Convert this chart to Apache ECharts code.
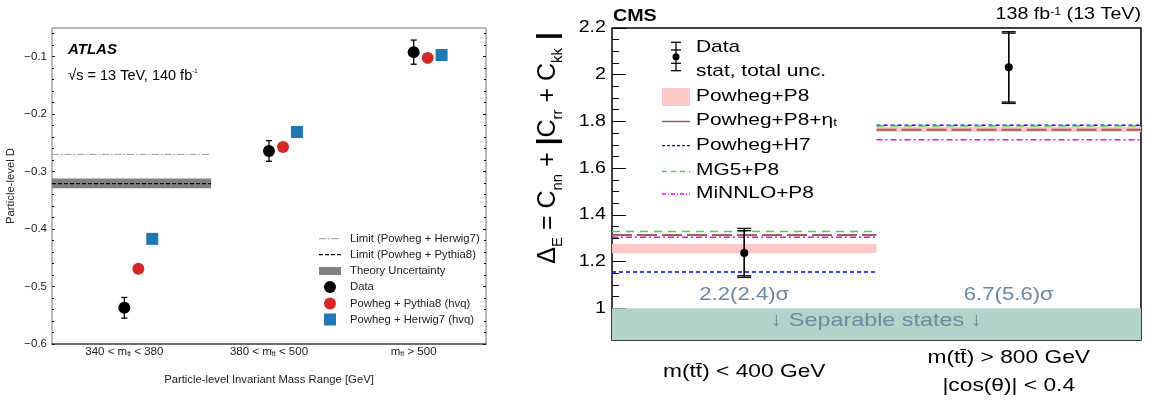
<!DOCTYPE html>
<html>
<head>
<meta charset="utf-8">
<script src="https://cdn.jsdelivr.net/npm/echarts@6/dist/echarts.min.js"></script>
<style>
  html, body { margin: 0; padding: 0; background: #fff; }
  #chart { width: 1153px; height: 403px; }
</style>
</head>
<body>
<div id="chart"></div>
<script>
// ---- left panel (ATLAS) ----
const atlasCats = ['340 < m{s|tt} < 380', '380 < m{s|tt} < 500', 'm{s|tt} > 500'];
const atlasData = [-0.537, -0.264, -0.092];
const atlasDataErr = [0.018, 0.018, 0.021];
const atlasPy8 = [-0.469, -0.257, -0.102];
const atlasHw7 = [-0.417, -0.231, -0.097];
const limitHw7 = -0.27;
const limitPy8 = -0.321;
const theoryBand = [-0.329, -0.312];
const limitSpan = [0, 1.1];
const atlasTicks = [-0.6, -0.5, -0.4, -0.3, -0.2, -0.1];

// ---- right panel (CMS) ----
const cmsBins = [0, 1, 2];
const cmsCats = ['m(tt̄) < 400 GeV', 'm(tt̄) > 800 GeV\n|cos(θ)| < 0.4'];
const cmsData = [1.237, 2.032];
const cmsStat = [[1.139, 1.332], [1.883, 2.178]];
const cmsTotal = [[1.132, 1.342], [1.877, 2.184]];
const powhegP8 = [[1.237, 1.275], [1.755, 1.777]];
const powhegP8Eta = [1.314, 1.764];
const powhegH7 = [1.155, 1.784];
const mg5P8 = [1.329, 1.780];
const minnloP8 = [1.304, 1.721];
const separableMax = 1;
const signif = ['2.2(2.4)σ', '6.7(5.6)σ'];
const cmsTicks = [1, 1.2, 1.4, 1.6, 1.8, 2, 2.2];

const FONT = 'Liberation Sans, Arial, DejaVu Sans, sans-serif';
const yMinL = -0.6, yMaxL = -0.05;
const yMinR = 0.864, yMaxR = 2.2;
const SX = 1.23; // the CMS panel text is drawn a bit wide

function steps(a, b, d) {
  const out = [];
  for (let v = a; v <= b + 1e-9; v += d) out.push(Math.round(v * 1000) / 1000);
  return out;
}

const chart = echarts.init(document.getElementById('chart'));

function rectItem(params, api) {
  const p0 = api.coord([api.value(0), api.value(3)]);
  const p1 = api.coord([api.value(1), api.value(2)]);
  return {
    type: 'rect',
    shape: { x: p0[0], y: p0[1], width: p1[0] - p0[0], height: p1[1] - p0[1] },
    style: { fill: api.visual('color') }
  };
}

function errItem(cap) {
  return function (params, api) {
    const x = api.value(0);
    const lo = api.coord([x, api.value(1)]);
    const hi = api.coord([x, api.value(2)]);
    const st = { stroke: '#000', lineWidth: 1.3 };
    return {
      type: 'group',
      children: [
        { type: 'line', shape: { x1: lo[0], y1: lo[1], x2: hi[0], y2: hi[1] }, style: st },
        { type: 'line', shape: { x1: lo[0] - cap, y1: lo[1], x2: lo[0] + cap, y2: lo[1] }, style: st },
        { type: 'line', shape: { x1: hi[0] - cap, y1: hi[1], x2: hi[0] + cap, y2: hi[1] }, style: st }
      ]
    };
  };
}

function stepLine(vals) {
  return [[cmsBins[0], vals[0]], [cmsBins[1], vals[0]], [cmsBins[1], '-'], [cmsBins[1], vals[1]], [cmsBins[2], vals[1]]];
}

function yAx(grid, min, max, pos, ticks, len, labels, labelOpt) {
  return {
    type: 'value', gridIndex: grid, min: min, max: max, position: pos,
    splitLine: { show: false },
    axisLine: { show: false },
    axisTick: { show: true, inside: true, length: len, customValues: ticks, lineStyle: { color: '#000', width: 1 } },
    axisLabel: labels ? Object.assign({ show: true, customValues: ticks }, labelOpt) : { show: false }
  };
}

const atlasMinor = steps(-0.6, -0.06, 0.02);
const cmsMinor = steps(0.9, 2.2, 0.05);

const option = {
  animation: false,
  grid: [
    { left: 52, top: 28, width: 434, height: 316, show: true, borderColor: '#777', borderWidth: 1 },
    { left: 612, top: 28, width: 529, height: 312, show: true, borderColor: '#000', borderWidth: 1.5 }
  ],
  xAxis: [
    {
      type: 'value', gridIndex: 0, min: 0, max: 3,
      splitLine: { show: false },
      axisLine: { show: true, lineStyle: { color: '#555', width: 1.5 } },
      axisTick: { show: false },
      axisLabel: {
        customValues: [0.5, 1.5, 2.5], verticalAlign: 'middle', margin: 8,
        formatter: function (v) { return atlasCats[Math.floor(v)]; },
        fontSize: 11.5, color: '#222', fontFamily: FONT,
        rich: { s: { fontSize: 7, verticalAlign: 'bottom', lineHeight: 8, color: '#222', fontFamily: FONT, padding: [4, 0, 0, 0] } }
      }
    },
    {
      type: 'value', gridIndex: 1, min: 0, max: 2,
      splitLine: { show: false },
      axisLine: { show: false },
      axisTick: { show: true, inside: true, length: 9, customValues: [1], lineStyle: { color: '#000', width: 1 } },
      axisLabel: { show: false }
    }
  ],
  yAxis: [
    yAx(0, yMinL, yMaxL, 'left', atlasTicks, 3, true, {
      fontSize: 11.5, color: '#222', fontFamily: FONT, margin: 5,
      formatter: function (v) { return v.toFixed(1).replace('-', '\u2212'); }
    }),
    yAx(0, yMinL, yMaxL, 'left', atlasMinor, 2, false),
    yAx(0, yMinL, yMaxL, 'right', atlasTicks, 3, false),
    yAx(0, yMinL, yMaxL, 'right', atlasMinor, 2, false),
    yAx(1, yMinR, yMaxR, 'left', cmsTicks, 14, false),
    yAx(1, yMinR, yMaxR, 'left', cmsMinor, 7, false)
  ],
  series: [
    // ---- ATLAS ----
    { type: 'custom', xAxisIndex: 0, yAxisIndex: 0, renderItem: rectItem, color: '#808080', z: 1,
      data: [[limitSpan[0], limitSpan[1], theoryBand[0], theoryBand[1]]] },
    { type: 'line', xAxisIndex: 0, yAxisIndex: 0, symbol: 'none', z: 2,
      lineStyle: { color: '#999', width: 1, type: [7, 2, 1.5, 2] },
      data: [[limitSpan[0], limitHw7], [limitSpan[1], limitHw7]] },
    { type: 'line', xAxisIndex: 0, yAxisIndex: 0, symbol: 'none', z: 2,
      lineStyle: { color: '#000', width: 1.2, type: [4, 2] },
      data: [[limitSpan[0], limitPy8], [limitSpan[1], limitPy8]] },
    { type: 'custom', xAxisIndex: 0, yAxisIndex: 0, renderItem: errItem(3), z: 3,
      data: atlasData.map((v, i) => [i + 0.5, v - atlasDataErr[i], v + atlasDataErr[i]]) },
    { type: 'scatter', xAxisIndex: 0, yAxisIndex: 0, symbol: 'circle', symbolSize: 12, z: 4,
      itemStyle: { color: '#000', opacity: 1 },
      data: atlasData.map((v, i) => [i + 0.5, v]) },
    { type: 'scatter', xAxisIndex: 0, yAxisIndex: 0, symbol: 'circle', symbolSize: 12, z: 5,
      itemStyle: { color: '#d62728', opacity: 1 },
      data: atlasPy8.map((v, i) => [i + 0.597, v]) },
    { type: 'scatter', xAxisIndex: 0, yAxisIndex: 0, symbol: 'rect', symbolSize: 12, z: 5,
      itemStyle: { color: '#1f77b4', opacity: 1 },
      data: atlasHw7.map((v, i) => [i + 0.693, v]) },

    // ---- CMS ----
    { type: 'custom', xAxisIndex: 1, yAxisIndex: 4, renderItem: rectItem, color: '#b2d3c9', z: 1,
      data: [[cmsBins[0], cmsBins[2], yMinR, separableMax]] },
    { type: 'custom', xAxisIndex: 1, yAxisIndex: 4, renderItem: rectItem, color: '#fdc8c8', z: 2,
      data: powhegP8.map((b, i) => [cmsBins[i], cmsBins[i + 1], b[0], b[1]]) },
    { type: 'line', xAxisIndex: 1, yAxisIndex: 4, symbol: 'none', connectNulls: false, z: 3,
      lineStyle: { color: '#996655', width: 2, type: [20, 5] }, data: stepLine(powhegP8Eta) },
    { type: 'line', xAxisIndex: 1, yAxisIndex: 4, symbol: 'none', connectNulls: false, z: 4,
      lineStyle: { color: '#0000ff', width: 1.5, type: [4, 3] }, data: stepLine(powhegH7) },
    { type: 'line', xAxisIndex: 1, yAxisIndex: 4, symbol: 'none', connectNulls: false, z: 4,
      lineStyle: { color: '#55c94a', width: 1.5, type: [8, 6] }, data: stepLine(mg5P8) },
    { type: 'line', xAxisIndex: 1, yAxisIndex: 4, symbol: 'none', connectNulls: false, z: 4,
      lineStyle: { color: '#ff00ff', width: 1.5, type: [6, 3, 2, 3] }, data: stepLine(minnloP8) },
    { type: 'custom', xAxisIndex: 1, yAxisIndex: 4, renderItem: errItem(7), z: 6,
      data: cmsTotal.map((e, i) => [i + 0.5, e[0], e[1]]) },
    { type: 'custom', xAxisIndex: 1, yAxisIndex: 4, renderItem: errItem(7), z: 6,
      data: cmsStat.map((e, i) => [i + 0.5, e[0], e[1]]) },
    { type: 'scatter', xAxisIndex: 1, yAxisIndex: 4, symbol: 'circle', symbolSize: 8, z: 7,
      itemStyle: { color: '#000', opacity: 1 },
      data: cmsData.map((v, i) => [i + 0.5, v]) }
  ]
};

option.series.forEach(function (s) { s.silent = true; });
chart.setOption(option);

// positions in pixels, taken from the chart's own scales
const pR = (x, y) => chart.convertToPixel({ xAxisIndex: 1, yAxisIndex: 4 }, [x, y]);

const txt = (x, y, text, o) => ({
  type: 'text', x: x, y: y, silent: true, z: 100,
  style: Object.assign({ text: text, fontFamily: FONT, fill: '#222', fontSize: 10, verticalAlign: 'middle' }, o)
});
// wide text for the CMS panel
const wtxt = (x, y, text, o) => Object.assign(txt(x, y, text, Object.assign({ fill: '#000' }, o)), { scaleX: SX });

const g = [];
// ATLAS labels
g.push(txt(68, 50, 'ATLAS', { fontSize: 15, fontWeight: 'bold', fontStyle: 'italic', fill: '#000' }));
g.push(txt(68, 76, '√{n|s = 13 TeV, 140 fb}{sup|-1}', {
  fontSize: 15, fill: '#000',
  rich: { n: { fontSize: 14.5, fontFamily: FONT, fill: '#000' }, sup: { fontSize: 6, verticalAlign: 'top', fontFamily: FONT, fill: '#000' } }
}));
g.push(txt(269, 380, 'Particle-level Invariant Mass Range [GeV]', { align: 'center', fontSize: 11.3 }));
g.push(Object.assign(txt(11, 186, 'Particle-level D', { align: 'center', fontSize: 11.3 }), { rotation: Math.PI / 2 }));

// ATLAS legend
const lx0 = 319, lx1 = 341, ltx = 350;
const lys = [238.7, 254.7, 271, 287, 303.5, 319.5];
const atlasLeg = ['Limit (Powheg + Herwig7)', 'Limit (Powheg + Pythia8)', 'Theory Uncertainty', 'Data', 'Powheg + Pythia8 (hvq)', 'Powheg + Herwig7 (hvq)'];
g.push({ type: 'line', silent: true, z: 100, shape: { x1: lx0, y1: lys[0], x2: lx1, y2: lys[0] }, style: { stroke: '#999', lineWidth: 1, lineDash: [7, 2, 1.5, 2] } });
g.push({ type: 'line', silent: true, z: 100, shape: { x1: lx0, y1: lys[1], x2: lx1, y2: lys[1] }, style: { stroke: '#000', lineWidth: 1.2, lineDash: [4, 2] } });
g.push({ type: 'rect', silent: true, z: 100, shape: { x: lx0, y: lys[2] - 4, width: lx1 - lx0, height: 8 }, style: { fill: '#808080' } });
g.push({ type: 'circle', silent: true, z: 100, shape: { cx: 330, cy: lys[3], r: 6 }, style: { fill: '#000' } });
g.push({ type: 'circle', silent: true, z: 100, shape: { cx: 330, cy: lys[4], r: 6 }, style: { fill: '#d62728' } });
g.push({ type: 'rect', silent: true, z: 100, shape: { x: 324, y: lys[5] - 6, width: 12, height: 12 }, style: { fill: '#1f77b4' } });
atlasLeg.forEach((t, i) => g.push(txt(ltx, lys[i], t, { fontSize: 11.3 })));

// CMS labels
g.push(wtxt(613, 17, 'CMS', { fontSize: 16, fontWeight: 'bold' }));
g.push(wtxt(1141, 15, '138 fb{sup|-1}{n| (13 TeV)}', {
  align: 'right', fontSize: 16,
  rich: { sup: { fontSize: 10, verticalAlign: 'top', fontFamily: FONT, fill: '#000' }, n: { fontSize: 16, fontFamily: FONT, fill: '#000' } }
}));
cmsTicks.forEach(v => {
  const p = pR(cmsBins[0], v);
  g.push(wtxt(p[0] - 6, p[1], String(v), { align: 'right', fontSize: 16 }));
});
cmsCats.forEach((t, i) => {
  const p = pR(i + 0.5, yMinR);
  g.push(wtxt(p[0], p[1] + 32, t, { align: 'center', fontSize: 18.5, lineHeight: 28 }));
});
const ytRich = {
  n: { fontSize: 25, lineHeight: 34, fontFamily: FONT, fill: '#000' },
  s: { fontSize: 15, lineHeight: 16, verticalAlign: 'bottom', fontFamily: FONT, fill: '#000' },
  b: { fontSize: 28, lineHeight: 34, fontFamily: FONT, fill: '#000', fontWeight: 'bold' }
};
g.push(Object.assign(txt(548, 148, '{n|Δ}{s|E}{n| = C}{s|nn}{n| + }{b||}{n|C}{s|rr}{n| + C}{s|kk}{b| |}', {
  align: 'center', rich: ytRich
}), { rotation: Math.PI / 2 }));

// significance + separable text
const sepText = '#6b89a0';
signif.forEach((t, i) => {
  const p = pR(i + 0.5, separableMax);
  g.push(wtxt(p[0], p[1] - 13, t, { align: 'center', fontSize: 18, fill: sepText }));
});
const sp = pR(cmsBins[1], (separableMax + yMinR) / 2);
g.push(wtxt(sp[0], sp[1] - 3, '↓ Separable states ↓', { align: 'center', fontSize: 19, fill: sepText }));

// CMS legend
const cx0 = 662, cx1 = 690, ctx = 696;
const cys = [47.7, 71, 96.7, 120, 145.7, 170.5, 193.5];
g.push({ type: 'line', silent: true, z: 100, shape: { x1: 676, y1: 42.3, x2: 676, y2: 70.7 }, style: { stroke: '#000', lineWidth: 1.3 } });
[42.3, 50, 63.3, 70.7].forEach(y => g.push({ type: 'line', silent: true, z: 100, shape: { x1: 671, y1: y, x2: 681, y2: y }, style: { stroke: '#000', lineWidth: 1.3 } }));
g.push({ type: 'circle', silent: true, z: 101, shape: { cx: 676, cy: 56.7, r: 3.5 }, style: { fill: '#000' } });
g.push(wtxt(ctx, cys[0], 'Data', { fontSize: 17 }));
g.push(wtxt(ctx, cys[1], 'stat, total unc.', { fontSize: 17 }));
g.push({ type: 'rect', silent: true, z: 100, shape: { x: cx0, y: 88, width: cx1 - cx0, height: 18 }, style: { fill: '#fdc8c8' } });
g.push(wtxt(ctx, cys[2], 'Powheg+P8', { fontSize: 17 }));
g.push({ type: 'line', silent: true, z: 100, shape: { x1: cx0, y1: 121.5, x2: cx1, y2: 121.5 }, style: { stroke: '#996655', lineWidth: 1.5 } });
g.push(wtxt(ctx, cys[3], 'Powheg+P8+η{s|t}', {
  fontSize: 17, rich: { s: { fontSize: 11, verticalAlign: 'bottom', lineHeight: 10, fontFamily: FONT, fill: '#000' } }
}));
g.push({ type: 'line', silent: true, z: 100, shape: { x1: cx0, y1: 145.7, x2: cx1, y2: 145.7 }, style: { stroke: '#0000ff', lineWidth: 1.3, lineDash: [3, 2] } });
g.push(wtxt(ctx, cys[4], 'Powheg+H7', { fontSize: 17 }));
g.push({ type: 'line', silent: true, z: 100, shape: { x1: cx0, y1: 171.5, x2: cx1, y2: 171.5 }, style: { stroke: '#55c94a', lineWidth: 1.3, lineDash: [5, 4] } });
g.push(wtxt(ctx, cys[5], 'MG5+P8', { fontSize: 17 }));
g.push({ type: 'line', silent: true, z: 100, shape: { x1: cx0, y1: 194, x2: cx1, y2: 194 }, style: { stroke: '#ff00ff', lineWidth: 1.3, lineDash: [4, 2, 1, 2] } });
g.push(wtxt(ctx, cys[6], 'MiNNLO+P8', { fontSize: 17 }));

chart.setOption({ graphic: { elements: g } });
</script>
</body>
</html>
